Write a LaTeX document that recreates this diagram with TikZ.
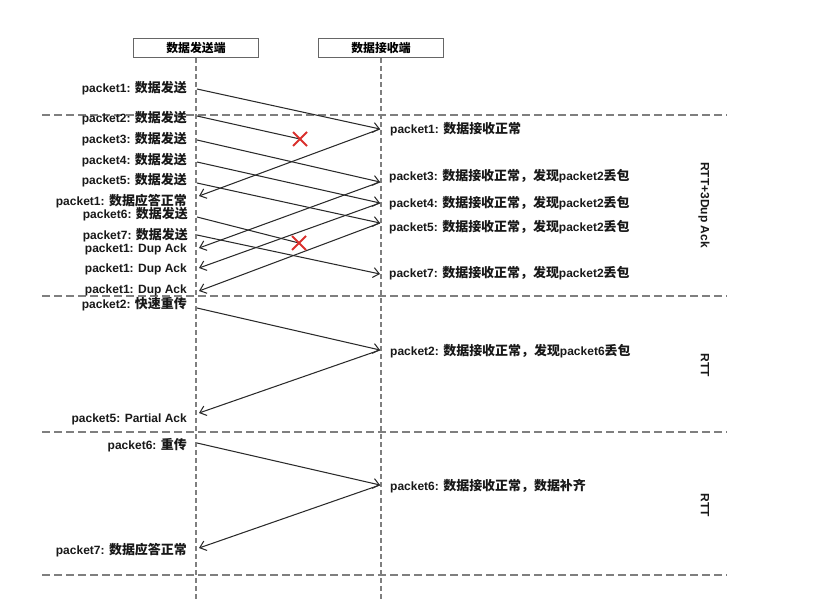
\documentclass[tikz,border=0pt]{standalone}
\usepackage{fontspec}
\setmainfont{Liberation Sans}
\newfontfamily\cjk{Noto Sans CJK SC}[Scale=1.08]
\newcommand{\zh}[1]{{\cjk #1}}
\usetikzlibrary{arrows.meta,calc}
\definecolor{linegray}{HTML}{7F7F7F}
\definecolor{arrowgray}{HTML}{2A2A2A}
\definecolor{crossred}{HTML}{D9302C}
\begin{document}
\begin{tikzpicture}[x=1pt,y=-1pt,
  txt/.style={font=\bfseries\fontsize{12}{14}\selectfont, inner sep=0pt, text=black!90},
  slabel/.style={txt, anchor=east},
  rlabel/.style={txt, anchor=west},
  sidelabel/.style={txt, rotate=-90},
  headbox/.style={draw=black!60, line width=1.3pt, minimum width=125pt, minimum height=19pt, inner sep=0pt, font=\bfseries\fontsize{11}{13}\selectfont},
  lifeline/.style={draw=linegray, line width=1.1pt, dash pattern=on 5pt off 3pt},
  sepline/.style={draw=linegray, line width=1.1pt, dash pattern=on 8pt off 4pt},
  msg/.style={draw=arrowgray, line width=1.05pt, -{Straight Barb[length=6pt,width=10pt,line width=1.05pt]}},
  lost/.style={draw=arrowgray, line width=1.05pt},
  cross/.style={draw=crossred, line width=1.8pt}
]
\path[use as bounding box] (0,0) rectangle (818,599);

% headers
\node[headbox] (snd) at (196,48) {\zh{数据发送端}};
\node[headbox] (rcv) at (381,48) {\zh{数据接收端}};
\coordinate (sndend) at (196,599);
\coordinate (rcvend) at (381,599);
\draw[lifeline] (snd.south) -- (sndend);
\draw[lifeline] (rcv.south) -- (rcvend);

% separators
\foreach \yy/\nm in {115/a,296/b,432/c,575/d}{
  \coordinate (L\nm) at (42,\yy);
  \coordinate (R\nm) at (727,\yy);
  \draw[sepline] (L\nm) -- (R\nm);
}

% points
\coordinate (S1) at (197,89);   \coordinate (R1) at (380,129);
\coordinate (S2) at (197,116);  \coordinate (X1) at (300,139);
\coordinate (A1) at (199,196);
\coordinate (S3) at (197,140);  \coordinate (R3) at (380,182);
\coordinate (S4) at (197,162);  \coordinate (R4) at (380,203);
\coordinate (S5) at (197,183);  \coordinate (R5) at (380,223);
\coordinate (S6) at (197,217);  \coordinate (X2) at (299,243);
\coordinate (S7) at (197,235);  \coordinate (R7) at (380,274);
\coordinate (D1) at (199,248);
\coordinate (D2) at (199,268);
\coordinate (D3) at (199,291);
\coordinate (S8) at (197,308);  \coordinate (R8) at (380,350);
\coordinate (A2) at (199,413);
\coordinate (S9) at (197,443);  \coordinate (R9) at (380,485);
\coordinate (A3) at (199,548);

% messages
\draw[msg] (S1) -- (R1);
\draw[lost] (S2) -- (X1);
\draw[msg] (R1) -- (A1);
\draw[msg] (S3) -- (R3);
\draw[msg] (S4) -- (R4);
\draw[msg] (S5) -- (R5);
\draw[lost] (S6) -- (X2);
\draw[msg] (S7) -- (R7);
\draw[msg] (R3) -- (D1);
\draw[msg] (R4) -- (D2);
\draw[msg] (R5) -- (D3);
\draw[msg] (S8) -- (R8);
\draw[msg] (R8) -- (A2);
\draw[msg] (S9) -- (R9);
\draw[msg] (R9) -- (A3);

% crosses
\draw[cross] ($(X1)+(-7,-7)$) -- ($(X1)+(7,7)$) ($(X1)+(-7,7)$) -- ($(X1)+(7,-7)$);
\draw[cross] ($(X2)+(-7,-7)$) -- ($(X2)+(7,7)$) ($(X2)+(-7,7)$) -- ($(X2)+(7,-7)$);

% sender labels
\node[slabel] (l1) at (187,88)  {packet1: \zh{数据发送}};
\node[slabel] (l2) at (187,118) {packet2: \zh{数据发送}};
\node[slabel] (l3) at (187,139) {packet3: \zh{数据发送}};
\node[slabel] (l4) at (187,160) {packet4: \zh{数据发送}};
\node[slabel] (l5) at (187,180) {packet5: \zh{数据发送}};
\node[slabel] (l6) at (187,201) {packet1: \zh{数据应答正常}};
\node[slabel] (l7) at (188,214) {packet6: \zh{数据发送}};
\node[slabel] (l8) at (188,235) {packet7: \zh{数据发送}};
\node[slabel] (l9) at (187,249) {packet1: Dup Ack};
\node[slabel] (l10) at (187,269) {packet1: Dup Ack};
\node[slabel] (l11) at (187,290) {packet1: Dup Ack};
\node[slabel] (l12) at (187,304) {packet2: \zh{快速重传}};
\node[slabel] (l13) at (187,419) {packet5: Partial Ack};
\node[slabel] (l14) at (187,445) {packet6: \zh{重传}};
\node[slabel] (l15) at (187,550) {packet7: \zh{数据应答正常}};

% receiver labels
\node[rlabel] (r1) at (390,129) {packet1: \zh{数据接收正常}};
\node[rlabel] (r3) at (389,176) {packet3: \zh{数据接收正常，发现}packet2\zh{丢包}};
\node[rlabel] (r4) at (389,203) {packet4: \zh{数据接收正常，发现}packet2\zh{丢包}};
\node[rlabel] (r5) at (389,227) {packet5: \zh{数据接收正常，发现}packet2\zh{丢包}};
\node[rlabel] (r7) at (389,273) {packet7: \zh{数据接收正常，发现}packet2\zh{丢包}};
\node[rlabel] (r8) at (390,351) {packet2: \zh{数据接收正常，发现}packet6\zh{丢包}};
\node[rlabel] (r9) at (390,486) {packet6: \zh{数据接收正常，数据补齐}};

% side labels
\node[sidelabel] (t1) at (704,205) {RTT+3Dup Ack};
\node[sidelabel] (t2) at (705,365) {RTT};
\node[sidelabel] (t3) at (705,505) {RTT};
\end{tikzpicture}
\end{document}
